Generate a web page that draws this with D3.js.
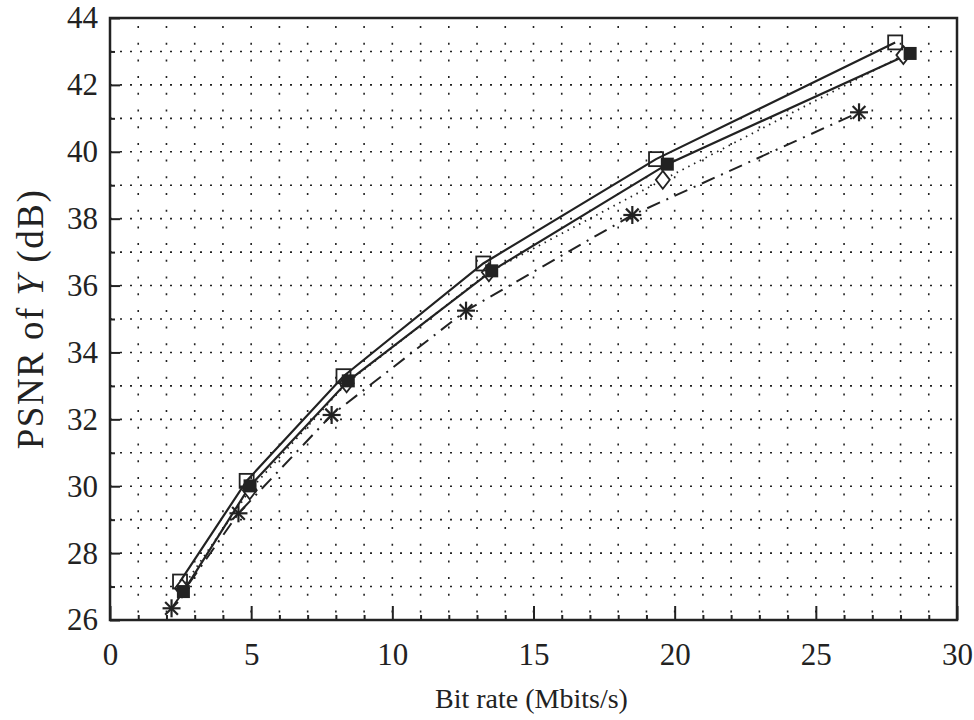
<!DOCTYPE html>
<html>
<head>
<meta charset="utf-8">
<script src="https://cdn.jsdelivr.net/npm/d3@7"></script>
<style>
  body { margin: 0; background: #fff; }
  text { font-family: "Liberation Serif", "DejaVu Serif", serif; fill: #222; }
</style>
</head>
<body>
<svg id="chart" width="974" height="720"></svg>
<script>
// --- data ---
const xTicks = [0, 5, 10, 15, 20, 25, 30];
const yTicks = [26, 28, 30, 32, 34, 36, 38, 40, 42, 44];

const openSquare = [[2.48, 27.15], [4.84, 30.16], [8.27, 33.29], [13.22, 36.66], [19.34, 39.78], [27.81, 43.27]];
const filledSquare = [[2.60, 26.85], [4.96, 30.01], [8.44, 33.15], [13.52, 36.44], [19.74, 39.63], [28.34, 42.94]];
const diamond = [[2.55, 26.95], [4.95, 29.88], [8.38, 33.08], [13.42, 36.40], [19.58, 39.16], [28.10, 42.89]];
const star = [[2.18, 26.35], [4.55, 29.19], [7.85, 32.13], [12.61, 35.25], [18.50, 38.11], [26.53, 41.18]];

const svg = d3.select("#chart");
const mLeft = 110, mRight = 957, mTop = 18, mBottom = 620;

const x = d3.scaleLinear().domain([0, 30]).range([mLeft, mRight]);
const y = d3.scaleLinear().domain([26, 44]).range([mBottom, mTop]);

// dotted grid
const grid = svg.append("g");
d3.range(1, 30).forEach(v => {
  grid.append("line")
    .attr("x1", x(v)).attr("x2", x(v)).attr("y1", mTop).attr("y2", mBottom)
    .attr("stroke", "#222").attr("stroke-width", 1.6)
    .attr("stroke-dasharray", "2,14.7").attr("stroke-dashoffset", -8);
});
d3.range(27, 44).forEach(v => {
  grid.append("line")
    .attr("x1", mLeft).attr("x2", mRight).attr("y1", y(v)).attr("y2", y(v))
    .attr("stroke", "#222").attr("stroke-width", 1.6)
    .attr("stroke-dasharray", "2,8");
});

// axes with inward ticks
const xAxis = svg.append("g").attr("transform", `translate(0,${mBottom})`)
  .call(d3.axisBottom(x).tickValues(xTicks).tickSize(-14).tickPadding(22).tickFormat(d3.format("d")));
const xMinor = svg.append("g").attr("transform", `translate(0,${mBottom})`)
  .call(d3.axisBottom(x).tickValues(d3.range(1, 30).filter(v => v % 5)).tickSize(-5).tickFormat(""));
const yAxis = svg.append("g").attr("transform", `translate(${mLeft},0)`)
  .call(d3.axisLeft(y).tickValues(yTicks).tickSize(-10).tickPadding(12).tickFormat(d3.format("d")));
const yMinor = svg.append("g").attr("transform", `translate(${mLeft},0)`)
  .call(d3.axisLeft(y).tickValues(d3.range(27, 44, 2)).tickSize(-5).tickFormat(""));

[xAxis, xMinor, yAxis, yMinor].forEach(g => {
  g.select(".domain").remove();
  g.selectAll(".tick line").attr("stroke", "#222").attr("stroke-width", 2);
  g.selectAll("text").style("font-size", "31px").attr("fill", "#222");
});
xAxis.selectAll("text").attr("dy", "0.75em");

// frame
svg.append("rect")
  .attr("x", mLeft).attr("y", mTop).attr("width", mRight - mLeft).attr("height", mBottom - mTop)
  .attr("fill", "none").attr("stroke", "#222").attr("stroke-width", 2.5);

// series lines
const line = d3.line().x(d => x(d[0])).y(d => y(d[1]));
const series = [
  { data: openSquare, dash: null, width: 2.2 },
  { data: filledSquare, dash: null, width: 2.2 },
  { data: diamond, dash: "1.5,5", width: 1.8 },
  { data: star, dash: "14,7,2,7", width: 2 }
];
series.forEach(s => {
  svg.append("path").datum(s.data)
    .attr("d", line).attr("fill", "none").attr("stroke", "#222")
    .attr("stroke-width", s.width)
    .attr("stroke-dasharray", s.dash);
});

// markers
svg.selectAll(".diamond").data(diamond).join("path")
  .attr("class", "diamond")
  .attr("transform", d => `translate(${x(d[0])},${y(d[1])})`)
  .attr("d", "M0,-9L7,0L0,9L-7,0Z")
  .attr("fill", "#fff").attr("stroke", "#222").attr("stroke-width", 1.8);

svg.selectAll(".osq").data(openSquare).join("rect")
  .attr("class", "osq")
  .attr("x", d => x(d[0]) - 7).attr("y", d => y(d[1]) - 7)
  .attr("width", 14).attr("height", 14)
  .attr("fill", "none").attr("stroke", "#222").attr("stroke-width", 1.8);

svg.selectAll(".fsq").data(filledSquare).join("rect")
  .attr("class", "fsq")
  .attr("x", d => x(d[0]) - 6.5).attr("y", d => y(d[1]) - 6.5)
  .attr("width", 13).attr("height", 13)
  .attr("fill", "#222");

const starG = svg.selectAll(".star").data(star).join("g")
  .attr("class", "star")
  .attr("transform", d => `translate(${x(d[0])},${y(d[1])})`);
[0, 45, 90, 135].forEach(a => {
  starG.append("line")
    .attr("x1", -9).attr("x2", 9).attr("y1", 0).attr("y2", 0)
    .attr("transform", `rotate(${a})`)
    .attr("stroke", "#222").attr("stroke-width", 2.2);
});

// axis titles
svg.append("text")
  .attr("x", (mLeft + mRight) / 2 - 2).attr("y", 708)
  .attr("text-anchor", "middle").style("font-size", "28px")
  .text("Bit rate (Mbits/s)");

const yt = svg.append("text")
  .attr("transform", `translate(43,${(mTop + mBottom) / 2}) rotate(-90)`)
  .attr("text-anchor", "middle").style("font-size", "37px")
  .style("letter-spacing", "1.5px");
yt.append("tspan").text("PSNR of ");
yt.append("tspan").style("font-style", "italic").text("Y");
yt.append("tspan").text(" (dB)");
</script>
</body>
</html>
